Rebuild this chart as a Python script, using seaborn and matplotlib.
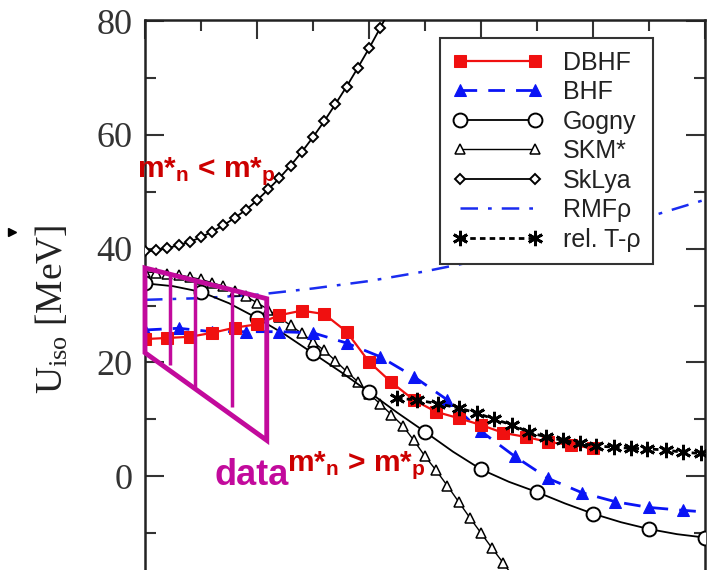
import matplotlib
matplotlib.use('Agg')
import matplotlib.pyplot as plt
import seaborn as sns
from matplotlib.lines import Line2D
from matplotlib.patches import Polygon

# kinetic energy [MeV] and isovector potential U_iso [MeV]
dbhf_e = [0, 20, 40, 60, 80, 100, 120, 140, 160, 180, 200, 220, 240, 260, 280, 300, 320, 340, 360, 380, 400]
dbhf_u = [24.1, 24.3, 24.5, 25.2, 26.1, 26.7, 28.3, 29.1, 28.5, 25.4, 20.1, 16.5, 13.4, 11.3, 10.2, 9.0, 7.6, 6.9, 6.0, 5.5, 4.9]

bhf_e = [0, 30, 60, 90, 120, 150, 180, 210, 240, 270, 300, 330, 360, 390, 420, 450, 480, 500]
bhf_u = [25.7, 26.0, 25.4, 25.4, 25.4, 25.2, 23.4, 21.0, 17.5, 13.4, 7.9, 3.5, -0.4, -2.9, -4.5, -5.5, -6.0, -6.3]

gogny_e = [0, 25, 50, 75, 100, 125, 150, 175, 200, 225, 250, 275, 300, 325, 350, 375, 400, 425, 450, 475, 500]
gogny_u = [33.9, 33.4, 32.4, 30.4, 27.8, 24.9, 21.6, 18.3, 14.8, 11.2, 7.8, 4.3, 1.2, -1.0, -2.8, -4.8, -6.6, -8.1, -9.3, -10.2, -10.8]

skm_e = [0, 10, 20, 30, 40, 50, 60, 70, 80, 90, 100, 110, 120, 130, 140, 150, 160,
         170, 180, 190, 200, 210, 220, 230, 240, 250, 260, 270, 280, 290, 300, 310, 320, 330]
skm_u = [35.9, 35.8, 35.6, 35.4, 35.0, 34.6, 34.0, 33.4, 32.6, 31.6, 30.5, 29.3, 27.9, 26.5, 25.1, 23.6, 22.1,
         20.3, 18.4, 16.6, 14.5, 12.7, 10.8, 8.9, 6.3, 3.5, 1.0, -1.7, -4.5, -7.3, -10.0, -12.7, -15.3, -18.0]

sklya_e = [0, 10, 20, 30, 40, 50, 60, 70, 80, 90, 100, 110, 120, 130, 140, 150, 160, 170, 180, 190, 200, 210, 220]
sklya_u = [39.5, 39.7, 40.1, 40.6, 41.2, 42.0, 43.0, 44.1, 45.4, 46.8, 48.5, 50.4, 52.4, 54.6, 57.0, 59.6,
           62.4, 65.4, 68.5, 71.8, 75.2, 78.8, 82.5]

rmf_e = [0, 50, 100, 150, 200, 250, 300, 350, 400, 450, 500]
rmf_u = [31.0, 31.3, 31.9, 33.0, 34.3, 36.0, 38.0, 40.3, 42.8, 45.6, 48.6]

relt_e = [225, 243, 262, 280, 296, 312, 328, 343, 358, 373, 388, 403, 419, 434, 448, 465, 480, 496]
relt_u = [13.7, 13.4, 12.7, 12.0, 11.1, 10.0, 9.0, 7.7, 6.9, 6.3, 5.8, 5.3, 5.1, 4.9, 4.8, 4.6, 4.2, 4.0]

# experimental band (Lane potential)
band_e = [0, 108.7]
band_top = [36.6, 31.2]
band_bottom = [21.7, 6.3]
bar_e = [22, 45, 78]
bar_top = [35.5, 34.4, 32.7]
bar_bottom = [19.5, 15.7, 12.1]

sns.set_theme(style='ticks')
plt.rcParams['font.family'] = ['Liberation Sans', 'DejaVu Sans']
plt.rcParams['mathtext.default'] = 'regular'

MAGENTA = '#c20a9c'
RED_TXT = '#cc0000'

fig = plt.figure(figsize=(7.08, 5.70), dpi=100)
ax = fig.add_axes([145 / 708, 0, 560 / 708, 550 / 570])

sns.lineplot(x=rmf_e, y=rmf_u, ax=ax, color='#1a2cf0', lw=1.8,
             linestyle=(0, (7, 4, 1.5, 4)), label='RMF\u03c1', zorder=2)
sns.lineplot(x=sklya_e, y=sklya_u, ax=ax, color='black', lw=1.3, marker='D', ms=5.5,
             mfc='white', mec='black', mew=1.4, label='SkLya', zorder=3)
sns.lineplot(x=skm_e, y=skm_u, ax=ax, color='black', lw=1.0, marker='^', ms=6.5,
             mfc='white', mec='black', mew=1.1, label='SKM*', zorder=3)
sns.lineplot(x=gogny_e, y=gogny_u, ax=ax, color='black', lw=1.3, marker='o', ms=10,
             mfc='white', mec='black', mew=1.4, markevery=2, label='Gogny', zorder=4)
sns.lineplot(x=bhf_e, y=bhf_u, ax=ax, color='#0a14f5', lw=2.0, linestyle=(0, (6, 4)),
             marker='^', ms=9, mec='#0a14f5', markevery=list(range(17)), label='BHF', zorder=5)
sns.lineplot(x=dbhf_e, y=dbhf_u, ax=ax, color='#f01010', lw=1.6, marker='s', ms=8,
             mec='#f01010', label='DBHF', zorder=6)
sns.lineplot(x=relt_e, y=relt_u, ax=ax, color='black', lw=2.0, linestyle=(0, (2, 1.5)),
             marker=(6, 2, 0), ms=11, mew=2.0, mec='black', label='rel. T-\u03c1', zorder=7)

# data band
ax.add_patch(Polygon([(band_e[0], band_top[0]), (band_e[1], band_top[1]),
                      (band_e[1], band_bottom[1]), (band_e[0], band_bottom[0])],
                     closed=True, fill=False, edgecolor=MAGENTA, lw=3.5,
                     joinstyle='miter', zorder=10, clip_on=False))
ax.vlines(bar_e, bar_bottom, bar_top, color=MAGENTA, lw=2.5, zorder=10)

ax.set_xlim(0, 499)
ax.set_ylim(-16.5, 80.2)
ax.set_xticks([0, 100, 200, 300, 400, 500])
ax.set_xticks([50, 150, 250, 350, 450], minor=True)
ax.set_yticks([0, 20, 40, 60, 80])
ax.set_yticks([-10, 10, 30, 50, 70], minor=True)
ax.set_yticklabels(['0', '20', '40', '60', '80'], fontfamily='Liberation Serif',
                   fontsize=26, color='#333333')
ax.tick_params(which='both', direction='in', top=True, right=True, bottom=False,
               labelbottom=False, color='#333333', width=1.5, pad=9)
ax.tick_params(which='major', length=14)
ax.tick_params(which='minor', length=8)
for side in ['left', 'right', 'top']:
    ax.spines[side].set_linewidth(1.8)
    ax.spines[side].set_color('#222222')
ax.spines['bottom'].set_visible(False)
ax.set_xlabel('')
ax.set_ylabel('')

fig.text(52 / 708, 1 - 309 / 570, r'U$_{iso}$ [MeV]', rotation=90, ha='center', va='center',
         fontfamily='Liberation Serif', fontsize=27, color='#222222')
fig.add_artist(Line2D([12 / 708], [1 - 232 / 570], marker='>', ms=6, color='black',
                      transform=fig.transFigure))

# annotations
ax.text(-7, 52.5, r'm*$_{n}$ < m*$_{p}$', color=RED_TXT, fontsize=21.5, fontweight='bold',
        ha='left', va='baseline', clip_on=False)
ax.text(62, -1.6, 'data', color=MAGENTA, fontsize=26, fontweight='bold',
        ha='left', va='baseline')
ax.text(127, 0.8, r'm*$_{n}$ > m*$_{p}$', color=RED_TXT, fontsize=21.5, fontweight='bold',
        ha='left', va='baseline')

# legend in the original order
handles, labels = ax.get_legend_handles_labels()
order = ['DBHF', 'BHF', 'Gogny', 'SKM*', 'SkLya', 'RMF\u03c1', 'rel. T-\u03c1']
hmap = dict(zip(labels, handles))
leg = ax.legend([hmap[k] for k in order], order, loc='upper right',
                bbox_to_anchor=(0.907, 0.967), numpoints=2, handlelength=3.6,
                handletextpad=0.8, fontsize=18, frameon=True, fancybox=False,
                framealpha=1.0, borderpad=0.5, labelspacing=0.22, borderaxespad=0)
leg.get_frame().set_edgecolor('#333333')
leg.get_frame().set_linewidth(1.5)
for t in leg.get_texts():
    t.set_color('#222222')

fig.savefig('out.png', dpi=100)
